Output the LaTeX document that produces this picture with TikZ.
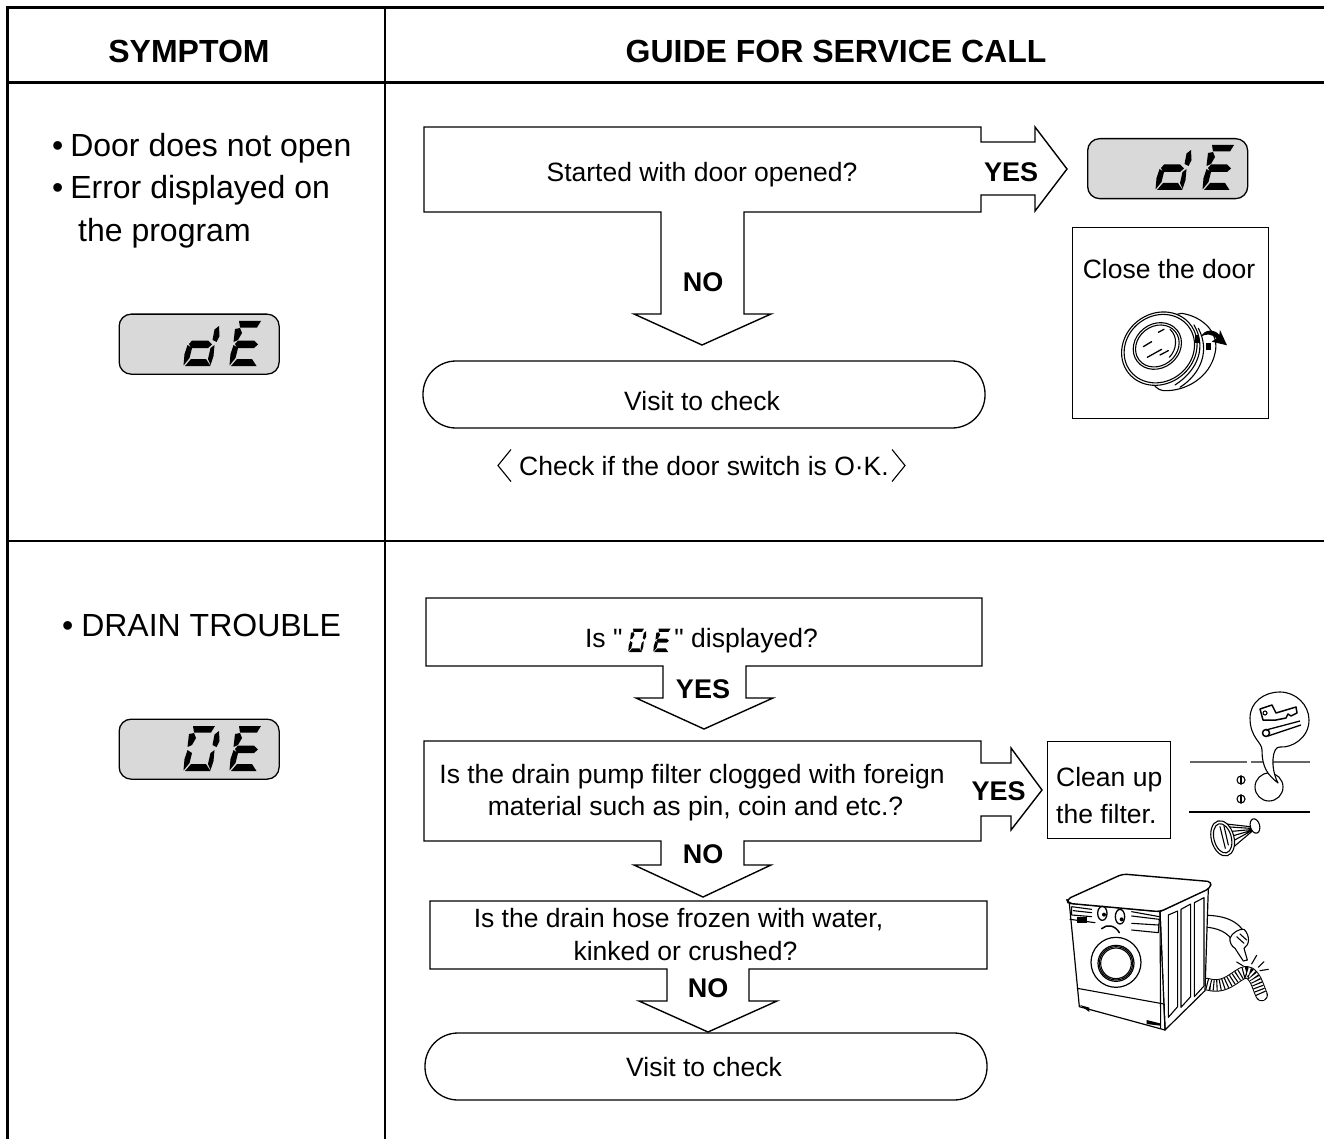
\documentclass[tikz,border=0pt]{standalone}
\usepackage{fontspec}
\setmainfont{Liberation Sans}
\newfontfamily\qfont{Liberation Sans}
\usetikzlibrary{calc}
\tikzset{
  body/.style={font=\fontsize{26.5}{30}\selectfont,inner sep=0pt,anchor=base},
  sym/.style={font=\fontsize{32}{36}\selectfont,inner sep=0pt,anchor=base west},
  head/.style={font=\fontsize{32}{36}\selectfont\bfseries,inner sep=0pt,anchor=base},
  lab/.style={font=\fontsize{27}{30}\selectfont\bfseries,inner sep=0pt,anchor=base},
  thick rule/.style={line width=3pt},
  thin rule/.style={line width=1.5pt},
  outline/.style={line width=1.4pt,line join=miter},
  pill/.style={draw,line width=1.3pt,rounded corners=33pt,minimum width=562pt,inner sep=0pt,anchor=base,
    text height=49pt,text depth=18pt,font=\fontsize{26.5}{30}\selectfont},
  framebox/.style={draw,line width=1.3pt,inner sep=0pt,anchor=north west},
  lcd/.style={draw,line width=1.3pt,fill=black!15,rounded corners=12pt,minimum width=160pt,minimum height=60pt,inner sep=0pt,anchor=north west},
  ink/.style={line width=1.1pt,line cap=round,line join=round},
}
\newcommand\sgA{\fill (10,45)--(32,45)--(28,38.5)--(11,38.5)--cycle;}
\newcommand\sgF{\fill (11,38)--(13,33)--(9,26)--(4.5,24)--(6,37)--cycle;}
\newcommand\sgB{\fill (36,40)--(31.5,36.5)--(29.5,26)--(33.5,24)--(36.5,30)--cycle;}
\newcommand\sgG{\fill (6,22)--(9,25.5)--(25,25.5)--(29,21.5)--(25,18)--(8,18)--cycle;}
\newcommand\sgE{\fill (4.5,21)--(9,18)--(6.5,8)--(0.5,0.5)--(1.5,12)--cycle;}
\newcommand\sgC{\fill (31.5,21)--(27.5,18)--(25,7)--(27.5,1)--(30.5,10)--cycle;}
\newcommand\sgD{\fill (8,7)--(23,7)--(27.5,0)--(2,0)--cycle;}
% #1 x, #2 y, #3 x unit, #4 y unit, #5 segments
\newcommand\lcddigit[5]{\begin{scope}[shift={(#1,#2)},x=#3pt,y=#4pt]#5\end{scope}}
\newcommand\letterd[4]{\lcddigit{#1}{#2}{#3}{#4}{\sgB\sgC\sgD\sgE\sgG}}
\newcommand\lettero[4]{\lcddigit{#1}{#2}{#3}{#4}{\sgA\sgB\sgC\sgD\sgE\sgF}}
\newcommand\lettere[4]{\lcddigit{#1}{#2}{#3}{#4}{\sgA\sgD\sgE\sgF\sgG}}
\begin{document}
\begin{tikzpicture}[x=1pt,y=-1pt]
\useasboundingbox (0,0) rectangle (1324,1139);
\fill[white] (0,0) rectangle (1324,1139);
% table rules
\coordinate (tl) at (7,8);
\coordinate (tr) at (1324,8);
\coordinate (bl) at (7,1139);
\draw[thick rule] (bl)--(tl)--(tr);
\draw[thick rule] (7,83)--(1324,83);
\draw[thin rule] (385,8)--(385,1139);
\draw[thin rule] (7,541)--(1324,541);
% headings
\node[head] (h1) at (189,62.5) {SYMPTOM};
\node[head] (h2) at (836,62.5) {GUIDE FOR SERVICE CALL};
% symptoms
\node[sym] (s1) at (52,157) {•\kern-2pt\ Door does not open};
\node[sym] (s2) at (52,199) {•\kern-2pt\ Error displayed on};
\node[sym] (s3) at (78,242) {the program};
\node[sym] (s4) at (62,636) {•\kern-1pt\ DRAIN TROUBLE};
% displays
\node[lcd] (d1) at (118.5,313.5) {};
\letterd{183}{366}{1}{1}\lettere{229}{366}{1}{1}
\node[lcd] (d2) at (118.5,718.5) {};
\lettero{183}{771}{1}{1}\lettere{229}{771}{1}{1}
\node[lcd] (d3) at (1087,138) {};
\letterd{1155}{190}{1}{1}\lettere{1202}{190}{1}{1}
% block 1
\draw[outline] (661,212)--(424,212)--(424,127)--(981,127)--(981,142)--(1035,142)--(1035,127)--(1067,169)--(1035,211)--(1035,195)--(981,195)--(981,212)--(744,212)--(744,314)--(771,314)--(702,345)--(634,314)--(661,314)--cycle;
\node[body] (q1) at (702,181.5) {Started with door opened?};
\node[lab] (y1) at (1011,182) {YES};
\node[lab] (n1) at (703,292) {NO};
\node[pill] (v1) at (704,410) {\hspace*{-4pt}Visit to check};
\node[body] (chk) at (704,475) {Check if the door switch is O·K.};
\coordinate (cl) at ($(chk.west)+(-8,0)$);
\coordinate (cr) at ($(chk.east)+(3,0)$);
\draw[line width=1.1pt] ($(cl)+(0,-16)$)--($(cl)+(-13,0)$)--($(cl)+(0,16)$);
\draw[line width=1.1pt] ($(cr)+(0,-16)$)--($(cr)+(13,0)$)--($(cr)+(0,16)$);
% close-door panel
\node[framebox,minimum width=196pt,minimum height=191pt] (closebox) at (1072,227) {};
\node[body] (closetxt) at (1169,279) {Close the door};
\begin{scope}[shift={(1040,120)},x=.3333pt,y=-.3333pt,ink]
  \filldraw[fill=white] (425,580) .. controls (490,590) and (540,640) .. (525,700) .. controls (510,770) and (440,815) .. (370,812) .. controls (300,805) and (300,600) .. (425,580);
  \draw (462,615) .. controls (500,680) and (475,750) .. (405,795);
  \draw (475,625) .. controls (510,690) and (485,760) .. (420,802);
  \filldraw[fill=white,rotate around={38:(358,686)}] (358,686) ellipse [x radius=118,y radius=105];
  \draw[rotate around={38:(358,686)}] (358,686) ellipse [x radius=110,y radius=98];
  \draw[rotate around={38:(352,678)}] (352,678) ellipse [x radius=76,y radius=66];
  \draw[rotate around={38:(352,678)}] (352,678) ellipse [x radius=69,y radius=59];
  \draw (390,628) .. controls (415,650) and (410,690) .. (388,712);
  \draw[line width=1.3pt] (310,680)--(335,665) (355,637)--(372,628) (322,712)--(365,688) (360,705)--(385,692);
  \fill (498,668) rectangle (512,690);
  \fill (466,645) rectangle (476,668);
  \fill (483,650) .. controls (495,625) and (525,628) .. (538,645) -- (540,630) -- (561,676) -- (515,665) -- (530,655) .. controls (515,642) and (498,640) .. (483,650) -- cycle;
\end{scope}
% block 2
\draw[outline] (663,666)--(426,666)--(426,598)--(982,598)--(982,666)--(746,666)--(746,698)--(773,698)--(704,729)--(636,698)--(663,698)--cycle;
\node[body] (q2) at (701.5,647) {Is {\qfont"}\hspace{52pt}{\qfont"} displayed?};
\lettero{628}{652}{.5}{.52}\lettere{653}{652}{.55}{.52}
\node[lab] (y2) at (703,698) {YES};
% block 3
\draw[outline] (661,841)--(424,841)--(424,741)--(981,741)--(981,763)--(1011,763)--(1011,748)--(1042,790)--(1011,830)--(1011,816)--(981,816)--(981,841)--(744,841)--(744,865)--(771,865)--(703,897)--(634,865)--(661,865)--cycle;
\node[body] (q3a) at (692,783) {Is the drain pump filter clogged with foreign};
\node[body] (q3b) at (695.5,815) {material such as pin, coin and etc.?};
\node[lab] (y3) at (998.5,800) {YES};
\node[lab] (n3) at (703,863) {NO};
\node[framebox,minimum width=123pt,minimum height=97pt] (cleanbox) at (1047,741) {};
\node[body,anchor=base west] (c1) at (1056,786) {Clean up};
\node[body,anchor=base west] (c2) at (1056,823) {the filter.};
% filter sketch
\draw[line width=1.2pt,black!60] (1190,762)--(1247,762) (1251,762)--(1310,762);
\draw[line width=1.3pt] (1189,812)--(1310,812);
\draw[ink] (1269,787) circle [radius=14];
\foreach \yy in {780,799} {
  \draw[ink] (1241,\yy) circle [radius=4];
  \draw[ink] (1241,\yy-4)--(1241,\yy+4);
}
\filldraw[ink,fill=white] (1278,783) .. controls (1268,775) and (1262,768) .. (1262,750) .. controls (1262,742) and (1250,738) .. (1250,718) .. controls (1250,702) and (1264,692) .. (1280,692) .. controls (1296,692) and (1309,705) .. (1309,720) .. controls (1309,738) and (1292,748) .. (1280,747) .. controls (1272,746) and (1270,768) .. (1278,783) -- cycle;
% key
\draw[line width=1.5pt,line join=round] (1260,709)--(1272,705)--(1276,713)--(1296,707)--(1297,713)--(1291,716)--(1288,714)--(1286,718)--(1276,720)--(1263,720)--cycle;
\draw[ink] (1265,713) circle [radius=2];
% pin
\draw[line width=1.3pt,line join=round] (1266,730)--(1300,721) (1268,736)--(1301,725);
\draw[line width=1.5pt] (1266,733) circle [radius=3.5];
% filter cap
\begin{scope}[shift={(1040,680)},x=.3333pt,y=-.3333pt,ink]
  \filldraw[fill=white] (540,430)--(630,440)--(635,455)--(570,510)--cycle;
  \draw (555,440)--(630,445) (565,455)--(632,449) (570,470)--(632,452) (575,485)--(632,454);
  \filldraw[fill=white,rotate around={15:(645,438)}] (645,438) ellipse [x radius=14,y radius=22];
  \filldraw[fill=white,rotate around={15:(548,475)}] (548,475) ellipse [x radius=34,y radius=54];
  \draw[rotate around={15:(548,475)}] (548,475) ellipse [x radius=26,y radius=45];
  \draw (540,440)--(556,505) (552,438)--(565,495);
\end{scope}
% block 4
\draw[outline] (667,969)--(430,969)--(430,901)--(987,901)--(987,969)--(749,969)--(749,1001)--(777,1001)--(708,1032)--(639,1001)--(667,1001)--cycle;
\node[body] (q4a) at (678.5,927) {Is the drain hose frozen with water,};
\node[body] (q4b) at (685.5,960) {kinked or crushed?};
\node[lab] (n4) at (708,997) {NO};
\node[pill,text height=43pt,text depth=24pt] (v2) at (706,1076) {\hspace*{-4pt}Visit to check};
% washing machine
\begin{scope}[shift={(1040,860)},x=.3333pt,y=-.3333pt,ink]
  % corrugated hose
  \draw[line width=12.5pt,line cap=round] (500,372) .. controls (570,395) and (600,320) .. (630,340) .. controls (650,355) and (655,385) .. (665,405);
  \draw[line width=10.5pt,white,line cap=round] (500,372) .. controls (570,395) and (600,320) .. (630,340) .. controls (650,355) and (655,385) .. (665,405);
  \draw[line width=10.5pt,dash pattern=on 1.1pt off 2.2pt,line cap=butt] (500,372) .. controls (570,395) and (600,320) .. (630,340) .. controls (650,355) and (655,385) .. (665,405);
  % upper hose
  \filldraw[fill=white] (470,165) .. controls (530,165) and (580,170) .. (610,212) -- (575,238) .. controls (555,210) and (520,200) .. (470,200) -- cycle;
  \filldraw[fill=white] (570,235) .. controls (575,218) and (600,205) .. (612,208) .. controls (630,225) and (630,255) .. (612,265) -- (622,300) -- (610,303) -- (585,265) .. controls (575,260) and (568,245) .. (570,235) -- cycle;
  \draw (590,230)--(612,250) (600,222)--(620,240);
  \draw (635,312)--(650,286) (655,322)--(672,305) (660,332)--(685,328) (590,306)--(610,318);
  % body
  \filldraw[fill=white,line width=1.2pt] (360,155)--(505,85)--(495,392)--(375,510)--cycle;
  \filldraw[fill=white,line width=1.2pt] (88,130)--(360,155)--(375,510)--(118,440)--cycle;
  \filldraw[fill=white,line width=1.4pt,rounded corners=4pt] (80,118)--(248,42)--(515,65)--(510,85)--(360,155)--(85,130)--cycle;
  \draw (385,165)--(413,153)--(413,440)--(385,472)--cycle;
  \draw (423,148)--(452,132)--(452,410)--(423,442)--cycle;
  \draw (463,128)--(492,113)--(492,378)--(463,410)--cycle;
  \draw (360,155)--(362,505);
  % control panel
  \draw (95,140)--(155,148) (95,140)--(95,165)--(155,170) (100,152)--(155,158) (90,178)--(165,188);
  \draw (275,155)--(358,170) (275,168)--(358,178) (275,190)--(355,195) (275,210)--(355,218)--(358,178);
  \fill (110,172) rectangle (140,188);
  % face
  \draw[line width=1.3pt] (187,160) ellipse [x radius=14,y radius=21];
  \draw[line width=1.3pt] (240,170) ellipse [x radius=14,y radius=22];
  \fill (192,164) circle [radius=6];
  \fill (245,178) circle [radius=6];
  \draw[line width=1.5pt] (185,206) .. controls (200,192) and (225,195) .. (238,218);
  % door
  \draw[line width=1.2pt] (228,307) circle [radius=75];
  \draw[line width=1.2pt] (228,310) circle [radius=54];
  \draw (228,310) circle [radius=50];
  \draw (228,310) circle [radius=46];
  % kick plate
  \draw (112,385)--(372,432)--(375,510);
  \fill (120,435)--(148,443)--(148,456)--cycle;
  \fill (320,480)--(360,490)--(360,497)--(320,492)--cycle;
\end{scope}
\end{tikzpicture}
\end{document}
